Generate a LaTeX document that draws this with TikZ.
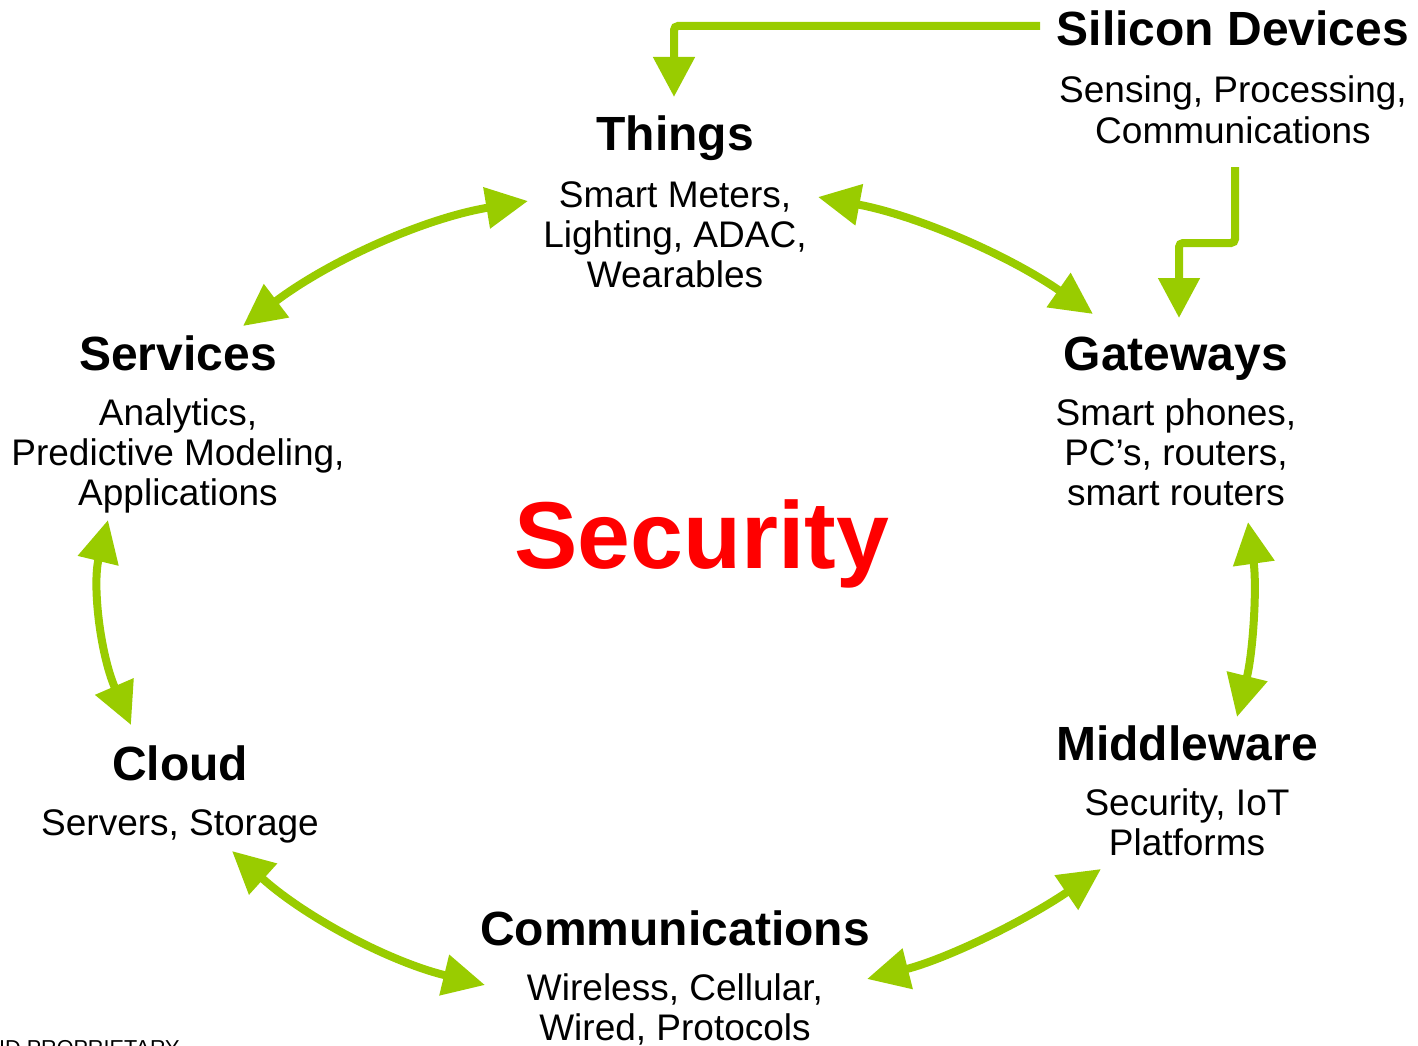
\documentclass[tikz,border=0pt]{standalone}
\usepackage{fontspec}
\setmainfont{Liberation Sans}
\usetikzlibrary{arrows.meta}
\definecolor{leaf}{HTML}{99CC00}
\definecolor{alarm}{HTML}{FF0000}
\begin{document}
\begin{tikzpicture}[x=1pt,y=-1pt,
  title/.style={anchor=base,inner sep=0pt,font=\fontsize{48}{52}\selectfont\bfseries},
  % base anchor of a multi-line detail sits on its last line
  detail/.style={anchor=base,inner sep=0pt,align=center,font=\fontsize{37}{40}\selectfont},
  link/.style={draw=leaf,line width=8pt,{Triangle[length=42pt,width=40pt]}-{Triangle[length=42pt,width=40pt]}},
  feed/.style={draw=leaf,line width=8pt,rounded corners=4pt,-{Triangle[length=40pt,width=40pt]}}]
\useasboundingbox (0,0) rectangle (1418,1046);

% block titles and descriptions
\node[title] (silicon) at (1233,46) {Silicon Devices};
\node[detail] (silicon-sub) at (1233,143) {Sensing, Processing,\\Communications};
\node[title] (things) at (675,150) {Things};
\node[detail] (things-sub) at (675,287) {Smart Meters,\\Lighting, ADAC,\\Wearables};
\node[title] (services) at (178,370) {Services};
\node[detail] (services-sub) at (178,505) {Analytics,\\Predictive Modeling,\\Applications};
\node[title] (gateways) at (1176,370) {Gateways};
\node[detail] (gateways-sub) at (1176,505) {Smart phones,\\PC’s, routers,\\smart routers};
\node[title] (middleware) at (1187,760) {Middleware};
\node[detail] (middleware-sub) at (1187,855) {Security, IoT\\Platforms};
\node[title] (cloud) at (180,780) {Cloud};
\node[detail] (cloud-sub) at (180,835) {Servers, Storage};
\node[title] (comms) at (675,945) {Communications};
\node[detail] (comms-sub) at (675,1040) {Wireless, Cellular,\\Wired, Protocols};
\node[anchor=base,inner sep=0pt,text=alarm,font=\fontsize{95}{100}\selectfont\bfseries] (security) at (702,568) {Security};
\node[anchor=base west,inner sep=0pt,font=\fontsize{21.6}{24}\selectfont] (footer) at (-1,1055) {ID PROPRIETARY};

% arrow end points beside each block
\coordinate (th-w) at (528,201);
\coordinate (th-e) at (818,197);
\coordinate (th-n) at (674,97);
\coordinate (sv-n) at (243,326);
\coordinate (sv-s) at (108,520);
\coordinate (gw-n) at (1093,314);
\coordinate (gw-t) at (1179,318);
\coordinate (gw-s) at (1248,522);
\coordinate (mw-n) at (1237,717);
\coordinate (mw-s) at (1101,869);
\coordinate (cl-n) at (131,725);
\coordinate (cl-s) at (232,851);
\coordinate (cm-w) at (485,985);
\coordinate (cm-e) at (867,979);
\coordinate (si-w) at (1040,26);
\coordinate (si-s) at (1235,167);

% supply lines from the silicon block
\draw[feed] (si-w) -- (674,26) -- (th-n);
\draw[feed] (si-s) -- (1235,243) -- (1179,243) -- (gw-t);

% the ring of two-way links
\draw[link] (th-w) .. controls (425.7,218) and (330.7,259.7) .. (sv-n);
\draw[link] (th-e) .. controls (915.7,215.3) and (1007.3,254.3) .. (gw-n);
\draw[link] (gw-s) .. controls (1257,586.3) and (1253.3,651.3) .. (mw-n);
\draw[link] (sv-s) .. controls (92.3,585) and (100,653.3) .. (cl-n);
\draw[link] (cl-s) .. controls (305,917) and (389.3,961.7) .. (cm-w);
\draw[link] (cm-e) .. controls (943.7,959.7) and (1021.7,923) .. (mw-s);
\end{tikzpicture}
\end{document}
